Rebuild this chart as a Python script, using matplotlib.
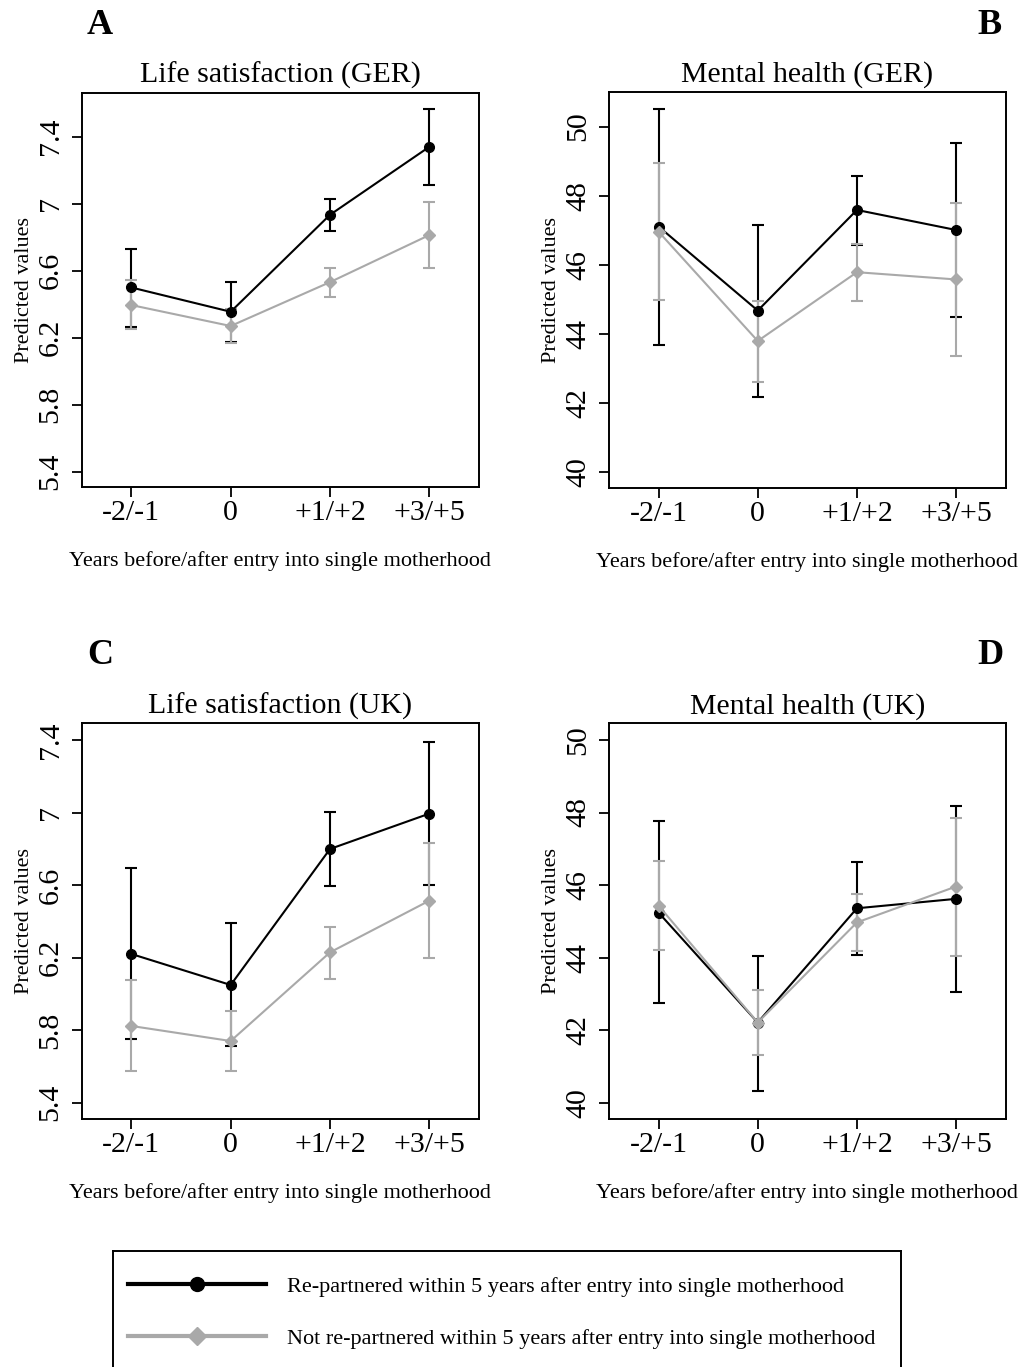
import matplotlib
matplotlib.use('Agg')
import matplotlib.pyplot as plt
from matplotlib.lines import Line2D
import numpy as np

plt.rcParams['font.family'] = ['Liberation Serif', 'DejaVu Serif']

periods = ['-2/-1', '0', '+1/+2', '+3/+5']

# Life satisfaction, Germany
ger_ls_rep = [6.50, 6.355, 6.934, 7.340]
ger_ls_rep_lo = [6.266, 6.174, 6.837, 7.113]
ger_ls_rep_hi = [6.727, 6.532, 7.028, 7.565]
ger_ls_not = [6.395, 6.270, 6.532, 6.813]
ger_ls_not_lo = [6.250, 6.170, 6.445, 6.614]
ger_ls_not_hi = [6.544, 6.370, 6.616, 7.012]

# Mental health, Germany
ger_mh_rep = [47.11, 44.68, 47.59, 47.01]
ger_mh_rep_lo = [43.67, 42.19, 46.57, 44.49]
ger_mh_rep_hi = [50.51, 47.16, 48.57, 49.54]
ger_mh_not = [46.96, 43.80, 45.79, 45.58]
ger_mh_not_lo = [44.99, 42.62, 44.96, 43.38]
ger_mh_not_hi = [48.94, 44.96, 46.61, 47.80]

# Life satisfaction, UK
uk_ls_rep = [6.220, 6.049, 6.799, 6.994]
uk_ls_rep_lo = [5.749, 5.712, 6.597, 6.600]
uk_ls_rep_hi = [6.692, 6.389, 7.003, 7.389]
uk_ls_not = [5.823, 5.740, 6.229, 6.514]
uk_ls_not_lo = [5.575, 5.575, 6.084, 6.198]
uk_ls_not_hi = [6.078, 5.906, 6.367, 6.834]

# Mental health, UK
uk_mh_rep = [45.24, 42.21, 45.36, 45.62]
uk_mh_rep_lo = [42.76, 40.33, 44.08, 43.06]
uk_mh_rep_hi = [47.78, 44.05, 46.64, 48.17]
uk_mh_not = [45.43, 42.21, 44.97, 45.96]
uk_mh_not_lo = [44.20, 41.32, 44.17, 44.04]
uk_mh_not_hi = [46.67, 43.10, 45.75, 47.84]

ls_ticks = [5.4, 5.8, 6.2, 6.6, 7.0, 7.4]
ls_ticklabels = ['5.4', '5.8', '6.2', '6.6', '7', '7.4']
mh_ticks = [40, 42, 44, 46, 48, 50]

BLACK = '#000000'
GRAY = '#a9a9a9'

W, H = 1019, 1367
fig = plt.figure(figsize=(W / 100, H / 100), dpi=100)


def px_axes(x0, y0, x1, y1):
    return fig.add_axes([x0 / W, 1 - y1 / H, (x1 - x0) / W, (y1 - y0) / H])


panels = [
    dict(box=(81.7, 92.7, 479, 487.3), title='Life satisfaction (GER)', letter='A', lx=100, ly=26,
         rep=(ger_ls_rep, ger_ls_rep_lo, ger_ls_rep_hi), nrep=(ger_ls_not, ger_ls_not_lo, ger_ls_not_hi),
         ylim=(5.307, 7.663), ticks=ls_ticks, labels=ls_ticklabels),
    dict(box=(609, 91.7, 1005.7, 488.3), title='Mental health (GER)', letter='B', lx=990, ly=26,
         rep=(ger_mh_rep, ger_mh_rep_lo, ger_mh_rep_hi), nrep=(ger_mh_not, ger_mh_not_lo, ger_mh_not_hi),
         ylim=(39.54, 51.01), ticks=mh_ticks, labels=[str(t) for t in mh_ticks]),
    dict(box=(81.7, 723.3, 479, 1119), title='Life satisfaction (UK)', letter='C', lx=100, ly=656,
         rep=(uk_ls_rep, uk_ls_rep_lo, uk_ls_rep_hi), nrep=(uk_ls_not, uk_ls_not_lo, uk_ls_not_hi),
         ylim=(5.31, 7.492), ticks=ls_ticks, labels=ls_ticklabels),
    dict(box=(609, 723.3, 1005.7, 1119), title='Mental health (UK)', letter='D', lx=990, ly=656,
         rep=(uk_mh_rep, uk_mh_rep_lo, uk_mh_rep_hi), nrep=(uk_mh_not, uk_mh_not_lo, uk_mh_not_hi),
         ylim=(39.55, 50.46), ticks=mh_ticks, labels=[str(t) for t in mh_ticks]),
]

x = np.arange(len(periods))

for p in panels:
    ax = px_axes(*p['box'])
    for (vals, lo, hi), color, marker, ms in [(p['rep'], BLACK, 'o', 7), (p['nrep'], GRAY, 'D', 6.5)]:
        vals = np.array(vals)
        yerr = [vals - np.array(lo), np.array(hi) - vals]
        ax.errorbar(x, vals, yerr=yerr, color=color, marker=marker, ms=ms, lw=1.5,
                    elinewidth=1.5, capsize=4.5, capthick=1.5)
    ax.set_xlim(-0.5, 3.5)
    ax.set_ylim(*p['ylim'])
    ax.set_xticks(x)
    ax.set_xticklabels(periods)
    ax.set_yticks(p['ticks'])
    ax.set_yticklabels(p['labels'], rotation=90, va='center')
    ax.tick_params(axis='both', labelsize=21.5, length=7, width=1.3, direction='out')
    ax.tick_params(axis='x', pad=2)
    ax.tick_params(axis='y', pad=6)
    for s in ax.spines.values():
        s.set_linewidth(1.4)
    ax.set_title(p['title'], fontsize=21.5, pad=7)
    ax.set_ylabel('Predicted values', fontsize=16)
    ax.yaxis.set_label_coords(-0.12, 0.5)
    ax.set_xlabel('Years before/after entry into single motherhood', fontsize=16)
    ax.xaxis.set_label_coords(0.5, -0.161)
    fig.text(p['lx'] / W, 1 - p['ly'] / H, p['letter'], fontsize=26, fontweight='bold',
             ha='center', va='center')

# legend box (runs off the bottom of the figure)
lax = px_axes(112.7, 1251, 900.7, 1400)
lax.set_xticks([])
lax.set_yticks([])
for s in lax.spines.values():
    s.set_linewidth(1.4)
handles = [
    Line2D([], [], color=BLACK, lw=3, marker='o', ms=10),
    Line2D([], [], color=GRAY, lw=3, marker='D', ms=9.5),
]
names = ['Re-partnered within 5 years after entry into single motherhood',
         'Not re-partnered within 5 years after entry into single motherhood']
lax.legend(handles, names, loc='upper left', bbox_to_anchor=(15.6 / 788, 1 - 25 / 149),
           frameon=False, fontsize=16, handlelength=6.19, handletextpad=0.95,
           labelspacing=1.43, borderpad=0, borderaxespad=0, numpoints=1)

fig.savefig('out.png', dpi=100)
